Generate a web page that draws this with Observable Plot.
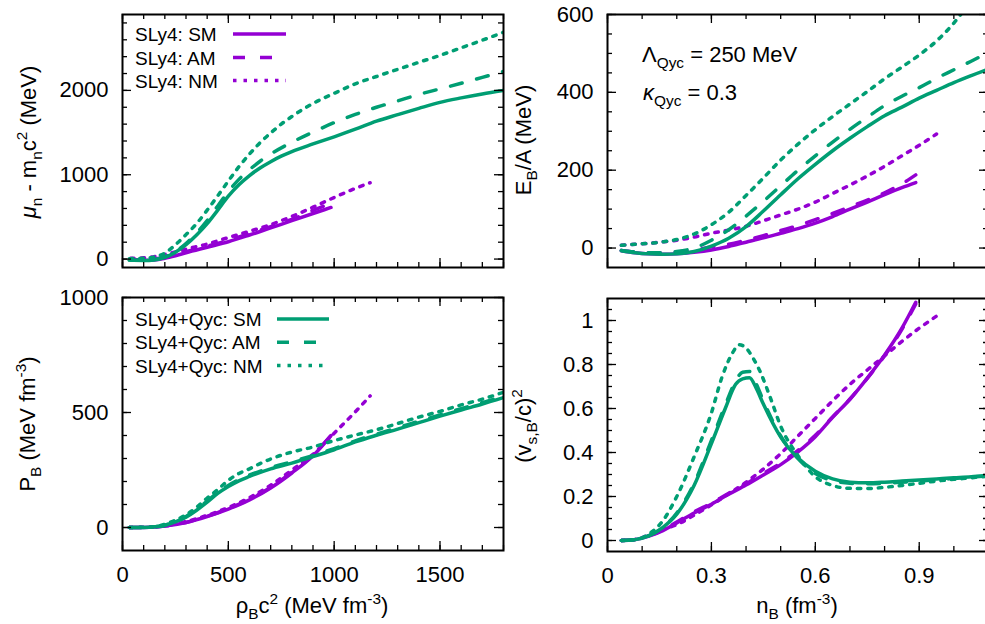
<!DOCTYPE html>
<html><head><meta charset="utf-8">
<script src="https://cdn.jsdelivr.net/npm/d3@7"></script>
<script src="https://cdn.jsdelivr.net/npm/@observablehq/plot@0.6"></script>
<style>
html,body{margin:0;padding:0;background:#fff;overflow:hidden;}
#fig{position:relative;width:985px;height:624px;overflow:hidden;background:#fff;}
#fig svg{position:absolute;}
</style></head><body><div id="fig"></div>
<script>
// ---------- DATA ----------
// Top-left: mu_n - m_n c^2 (MeV) vs rho_B c^2 (MeV fm^-3)
const tlSly4SM = [[38,-8],[100,-14],[150,-10],[200,10],[250,40],[300,75],[400,140],[500,205],[600,285],[700,370],[800,455],[900,540],[985,612]];
const tlSly4AM = [[38,-5],[100,-8],[150,0],[200,25],[250,55],[300,88],[400,152],[500,222],[600,302],[700,385],[800,470],[900,578],[985,660]];
const tlSly4NM = [[38,10],[100,15],[150,28],[200,55],[250,85],[300,118],[400,178],[500,255],[600,330],[700,408],[800,505],[900,615],[1000,730],[1100,838],[1170,905]];
const tlQycSM = [[32,-12],[100,-16],[150,-10],[200,20],[250,80],[300,170],[350,285],[400,420],[450,580],[500,745],[550,880],[600,990],[650,1080],[700,1155],[750,1220],[800,1275],[900,1365],[1000,1450],[1100,1540],[1200,1635],[1300,1712],[1400,1787],[1500,1858],[1600,1911],[1700,1958],[1800,2000]];
const tlQycAM = [[32,-10],[100,-14],[150,-6],[200,25],[250,90],[300,185],[350,310],[400,455],[450,630],[500,800],[550,945],[600,1060],[650,1160],[700,1245],[800,1385],[900,1505],[1000,1618],[1100,1715],[1200,1800],[1300,1875],[1400,1952],[1500,2018],[1600,2085],[1700,2155],[1800,2225]];
const tlQycNM = [[32,5],[100,10],[150,25],[200,70],[250,170],[300,290],[350,420],[400,580],[450,750],[500,925],[550,1095],[600,1245],[650,1380],[700,1495],[750,1600],[800,1690],[850,1772],[900,1845],[1000,1965],[1100,2078],[1200,2165],[1300,2250],[1400,2333],[1500,2415],[1600,2505],[1700,2595],[1800,2690]];

// Top-right: E_B/A (MeV) vs n_B (fm^-3)
const trSly4SM = [[0.04,-7],[0.08,-12],[0.12,-15],[0.16,-16],[0.2,-15],[0.25,-11],[0.3,-5],[0.35,4],[0.4,15],[0.45,26],[0.5,38],[0.55,50],[0.6,64],[0.65,81],[0.7,100],[0.75,118],[0.8,137],[0.85,155],[0.89,168]];
const trSly4AM = [[0.04,-6],[0.08,-10],[0.12,-12],[0.16,-12],[0.2,-10],[0.25,-5],[0.3,3],[0.35,10],[0.4,20],[0.45,32],[0.5,45],[0.55,58],[0.6,73],[0.65,89],[0.7,106],[0.75,123],[0.8,142],[0.85,165],[0.89,188]];
const trSly4NM = [[0.04,7],[0.08,10],[0.12,12],[0.16,16],[0.2,20],[0.25,28],[0.3,38],[0.35,46],[0.4,56],[0.45,70],[0.5,85],[0.55,100],[0.6,118],[0.65,140],[0.7,162],[0.75,185],[0.8,210],[0.85,237],[0.9,264],[0.95,293]];
const trQycSM = [[0.04,-7],[0.08,-12],[0.12,-15],[0.16,-16],[0.2,-15],[0.25,-9],[0.3,5],[0.35,25],[0.4,55],[0.45,95],[0.5,137],[0.55,178],[0.6,215],[0.65,250],[0.7,282],[0.75,312],[0.8,340],[0.85,362],[0.9,385],[0.95,405],[1.0,425],[1.05,443],[1.1,460]];
const trQycAM = [[0.04,-6],[0.08,-10],[0.12,-12],[0.16,-12],[0.2,-9],[0.25,0],[0.3,20],[0.35,47],[0.4,82],[0.45,120],[0.5,160],[0.55,200],[0.6,237],[0.65,272],[0.7,305],[0.75,336],[0.8,366],[0.85,390],[0.9,412],[0.95,436],[1.0,458],[1.05,480],[1.1,503]];
const trQycNM = [[0.04,7],[0.08,10],[0.12,12],[0.16,16],[0.2,22],[0.25,36],[0.3,60],[0.35,92],[0.4,135],[0.45,180],[0.5,226],[0.55,267],[0.6,304],[0.65,338],[0.7,370],[0.75,402],[0.8,435],[0.85,465],[0.9,496],[0.95,532],[1.0,578],[1.02,600]];

// Bottom-left: P_B (MeV fm^-3) vs rho_B c^2 (MeV fm^-3)
const blSly4SM = [[32,0],[100,0.5],[150,2],[200,6],[300,22],[400,48],[500,80],[600,120],[700,172],[800,237],[900,312],[985,400]];
const blSly4AM = [[32,0],[100,0.5],[150,2],[200,6],[300,22],[400,49],[500,82],[600,123],[700,175],[800,240],[900,316],[985,400]];
const blSly4NM = [[32,0],[100,1],[200,8],[300,26],[400,53],[500,87],[600,130],[700,184],[800,250],[900,318],[1000,410],[1100,503],[1170,572]];
const blQycSM = [[32,0],[100,0.5],[150,3],[200,9],[250,25],[300,45],[350,75],[400,110],[450,148],[500,178],[550,203],[600,222],[700,255],[800,280],[900,308],[1000,338],[1100,372],[1200,401],[1300,428],[1400,456],[1500,484],[1600,511],[1700,537],[1800,565]];
const blQycAM = [[32,0],[100,0.5],[150,3],[200,10],[250,27],[300,48],[350,79],[400,115],[450,153],[500,183],[550,208],[600,228],[700,260],[800,286],[900,313],[1000,343],[1100,377],[1200,406],[1300,434],[1400,462],[1500,490],[1600,517],[1700,543],[1800,571]];
const blQycNM = [[32,0],[100,1],[150,4],[200,14],[250,32],[300,55],[350,88],[400,128],[450,165],[500,205],[550,235],[600,255],[650,278],[700,298],[800,328],[900,350],[1000,378],[1100,402],[1200,425],[1300,452],[1400,480],[1500,505],[1600,533],[1700,558],[1800,588]];

// Bottom-right: (v_s,B/c)^2 vs n_B (fm^-3)
const brSly4SM = [[0.04,0],[0.08,0.004],[0.12,0.02],[0.16,0.045],[0.2,0.08],[0.25,0.125],[0.3,0.165],[0.35,0.21],[0.4,0.252],[0.45,0.298],[0.5,0.345],[0.55,0.403],[0.6,0.472],[0.65,0.56],[0.7,0.642],[0.75,0.738],[0.8,0.843],[0.85,0.965],[0.89,1.083]];
const brSly4AM = [[0.04,0],[0.08,0.004],[0.12,0.022],[0.16,0.048],[0.2,0.084],[0.25,0.13],[0.3,0.17],[0.35,0.215],[0.4,0.258],[0.45,0.305],[0.5,0.352],[0.55,0.41],[0.6,0.478],[0.65,0.562],[0.7,0.643],[0.75,0.737],[0.8,0.84],[0.85,0.96],[0.89,1.075]];
const brSly4NM = [[0.04,0],[0.08,0.005],[0.12,0.025],[0.16,0.05],[0.2,0.072],[0.25,0.115],[0.3,0.162],[0.35,0.212],[0.4,0.265],[0.45,0.325],[0.5,0.395],[0.55,0.475],[0.6,0.555],[0.65,0.635],[0.7,0.71],[0.75,0.775],[0.8,0.84],[0.85,0.905],[0.9,0.965],[0.95,1.02]];
const brQycSM = [[0.04,0],[0.08,0.004],[0.12,0.022],[0.16,0.06],[0.2,0.12],[0.25,0.25],[0.3,0.44],[0.34,0.6],[0.37,0.71],[0.39,0.735],[0.41,0.74],[0.43,0.69],[0.45,0.62],[0.5,0.47],[0.55,0.375],[0.6,0.315],[0.65,0.28],[0.7,0.265],[0.75,0.262],[0.8,0.265],[0.85,0.27],[0.9,0.275],[0.95,0.28],[1.0,0.285],[1.05,0.29],[1.1,0.297]];
const brQycAM = [[0.04,0],[0.08,0.004],[0.12,0.022],[0.16,0.06],[0.2,0.125],[0.25,0.26],[0.3,0.455],[0.34,0.615],[0.37,0.725],[0.39,0.765],[0.41,0.768],[0.43,0.71],[0.45,0.635],[0.5,0.475],[0.55,0.372],[0.6,0.305],[0.65,0.272],[0.7,0.26],[0.75,0.258],[0.8,0.26],[0.85,0.265],[0.9,0.27],[0.95,0.276],[1.0,0.282],[1.05,0.288],[1.1,0.294]];
const brQycNM = [[0.04,0],[0.08,0.004],[0.12,0.03],[0.16,0.09],[0.2,0.2],[0.25,0.38],[0.3,0.58],[0.33,0.74],[0.36,0.85],[0.38,0.89],[0.4,0.875],[0.42,0.83],[0.44,0.77],[0.47,0.65],[0.5,0.52],[0.55,0.385],[0.6,0.29],[0.65,0.25],[0.7,0.237],[0.75,0.236],[0.8,0.242],[0.85,0.25],[0.9,0.26],[0.95,0.27],[1.0,0.278],[1.05,0.285],[1.1,0.293]];

// Tick values and labels
const rhoTicks = [0, 500, 1000, 1500];
const rhoTickLabels = ["0", "500", "1000", "1500"];
const nTicks = [0, 0.3, 0.6, 0.9];
const nTickLabels = ["0", "0.3", "0.6", "0.9"];
const muTicks = [0, 1000, 2000];
const muTickLabels = ["0", "1000", "2000"];
const eTicks = [0, 200, 400, 600];
const eTickLabels = ["0", "200", "400", "600"];
const pTicks = [0, 500, 1000];
const pTickLabels = ["0", "500", "1000"];
const vTicks = [0, 0.2, 0.4, 0.6, 0.8, 1];
const vTickLabels = ["0", "0.2", "0.4", "0.6", "0.8", "1"];

const legendSly4 = ["SLy4: SM", "SLy4: AM", "SLy4: NM"];
const legendQyc = ["SLy4+Qyc: SM", "SLy4+Qyc: AM", "SLy4+Qyc: NM"];

// ---------- STYLE ----------
const PURPLE = "#9400d3", GREEN = "#009e73";
const FONT = '"Liberation Sans", Arial, Helvetica, sans-serif';
const DASHES = [null, "12,15", "3.5,7"];
const LW = 3.5;

function curve(data, color, dash) {
  const o = {x: d => d[0], y: d => d[1], stroke: color, strokeWidth: LW, curve: "monotone-x", clip: true};
  if (dash) o.strokeDasharray = dash;
  return Plot.line(data, o);
}

function panel(cfg) {
  const {width, height, mt, mb, ml, mr} = cfg;
  const W = width - ml - mr, H = height - mt - mb;
  const MAJ = 9, MIN = 5, TW = 1.3;
  const marks = [];
  cfg.series.forEach(s => marks.push(curve(s[0], s[1], s[2])));
  marks.push(Plot.tickX(cfg.xMinor, {x: d => d, insetTop: H - MIN, strokeWidth: TW, stroke: "#000"}));
  marks.push(Plot.tickX(cfg.xMinor, {x: d => d, insetBottom: H - MIN, strokeWidth: TW, stroke: "#000"}));
  marks.push(Plot.tickX(cfg.xMajor, {x: d => d, insetTop: H - MAJ, strokeWidth: TW, stroke: "#000"}));
  marks.push(Plot.tickX(cfg.xMajor, {x: d => d, insetBottom: H - MAJ, strokeWidth: TW, stroke: "#000"}));
  marks.push(Plot.tickY(cfg.yMinor, {y: d => d, insetRight: W - MIN, strokeWidth: TW, stroke: "#000"}));
  marks.push(Plot.tickY(cfg.yMinor, {y: d => d, insetLeft: W - MIN, strokeWidth: TW, stroke: "#000"}));
  marks.push(Plot.tickY(cfg.yMajor, {y: d => d, insetRight: W - MAJ, strokeWidth: TW, stroke: "#000"}));
  marks.push(Plot.tickY(cfg.yMajor, {y: d => d, insetLeft: W - MAJ, strokeWidth: TW, stroke: "#000"}));
  marks.push(Plot.frame({stroke: "#000", strokeWidth: 2}));
  const xMap = new Map(cfg.xMajor.map((v, i) => [v, cfg.xLabels[i]]));
  const yMap = new Map(cfg.yMajor.map((v, i) => [v, cfg.yLabels[i]]));
  const svg = Plot.plot({
    width, height, marginTop: mt, marginBottom: mb, marginLeft: ml, marginRight: mr,
    style: {fontFamily: FONT, fontSize: "22px", color: "#000", background: "transparent", overflow: "visible"},
    x: cfg.showX
      ? {domain: cfg.xDomain, ticks: cfg.xMajor, tickFormat: d => xMap.get(d), tickSize: 0, tickPadding: 16, label: null}
      : {domain: cfg.xDomain, axis: null},
    y: {domain: cfg.yDomain, ticks: cfg.yMajor, tickFormat: d => yMap.get(d), tickSize: 0, tickPadding: 14, label: null},
    marks
  });
  svg.style.position = "absolute";
  svg.style.left = cfg.left + "px";
  svg.style.top = cfg.top + "px";
  document.getElementById("fig").appendChild(svg);
}

const rhoMinor = d3.range(0, 1801, 100);
const nMinor = d3.range(0, 12).map(i => i / 10);

panel({left: 0, top: 0, width: 505, height: 290, mt: 14, mb: 23, ml: 122, mr: 2,
  xDomain: [0, 1800], yDomain: [-100, 2900], xMajor: rhoTicks, xLabels: rhoTickLabels, xMinor: rhoMinor,
  yMajor: muTicks, yLabels: muTickLabels, yMinor: d3.range(0, 2801, 200), showX: false,
  series: [[tlSly4SM, PURPLE, DASHES[0]], [tlSly4AM, PURPLE, DASHES[1]], [tlSly4NM, PURPLE, DASHES[2]],
           [tlQycSM, GREEN, DASHES[0]], [tlQycAM, GREEN, DASHES[1]], [tlQycNM, GREEN, DASHES[2]]]});

panel({left: 490, top: 0, width: 500, height: 290, mt: 14, mb: 23, ml: 117, mr: 2,
  xDomain: [0, 1.1], yDomain: [-50, 600], xMajor: nTicks, xLabels: nTickLabels, xMinor: nMinor,
  yMajor: eTicks, yLabels: eTickLabels, yMinor: d3.range(0, 601, 50), showX: false,
  series: [[trSly4SM, PURPLE, DASHES[0]], [trSly4AM, PURPLE, DASHES[1]], [trSly4NM, PURPLE, DASHES[2]],
           [trQycSM, GREEN, DASHES[0]], [trQycAM, GREEN, DASHES[1]], [trQycNM, GREEN, DASHES[2]]]});

panel({left: 0, top: 280, width: 505, height: 344, mt: 17, mb: 74, ml: 122, mr: 2,
  xDomain: [0, 1800], yDomain: [-100, 1000], xMajor: rhoTicks, xLabels: rhoTickLabels, xMinor: rhoMinor,
  yMajor: pTicks, yLabels: pTickLabels, yMinor: d3.range(0, 1001, 100), showX: true,
  series: [[blSly4SM, PURPLE, DASHES[0]], [blSly4AM, PURPLE, DASHES[1]], [blSly4NM, PURPLE, DASHES[2]],
           [blQycSM, GREEN, DASHES[0]], [blQycAM, GREEN, DASHES[1]], [blQycNM, GREEN, DASHES[2]]]});

panel({left: 490, top: 280, width: 500, height: 344, mt: 18, mb: 73, ml: 117, mr: 2,
  xDomain: [0, 1.1], yDomain: [-0.05, 1.1], xMajor: nTicks, xLabels: nTickLabels, xMinor: nMinor,
  yMajor: vTicks, yLabels: vTickLabels, yMinor: d3.range(0, 22).map(i => i / 20), showX: true,
  series: [[brSly4SM, PURPLE, DASHES[0]], [brSly4AM, PURPLE, DASHES[1]], [brSly4NM, PURPLE, DASHES[2]],
           [brQycSM, GREEN, DASHES[0]], [brQycAM, GREEN, DASHES[1]], [brQycNM, GREEN, DASHES[2]]]});

// ---------- OVERLAY TEXT & LEGENDS ----------
const ov = d3.create("svg").attr("width", 985).attr("height", 624)
  .style("left", "0px").style("top", "0px").style("position", "absolute")
  .attr("font-family", FONT).attr("fill", "#000");

function rich(x, y, parts, {size = 22, anchor = "middle", rotate = 0} = {}) {
  const t = ov.append("text").attr("transform", `translate(${x},${y}) rotate(${rotate})`)
    .attr("text-anchor", anchor).attr("font-size", size);
  let cur = 0;
  for (const p of parts) {
    const off = p.sub ? size * 0.27 : p.sup ? -size * 0.42 : 0;
    const ts = t.append("tspan").attr("dy", off - cur).text(p.t);
    if (p.sub || p.sup) ts.attr("font-size", size * 0.7);
    if (p.i) ts.attr("font-style", "italic");
    cur = off;
  }
}

rich(36, 142, [{t: "μ", i: 1}, {t: "n", sub: 1}, {t: " - m"}, {t: "n", sub: 1}, {t: "c"}, {t: "2", sup: 1}, {t: " (MeV)"}], {rotate: -90});
rich(531, 140, [{t: "E"}, {t: "B", sub: 1}, {t: "/A (MeV)"}], {rotate: -90});
rich(35, 424, [{t: "P"}, {t: "B", sub: 1}, {t: " (MeV fm"}, {t: "-3", sup: 1}, {t: ")"}], {rotate: -90});
rich(531, 426, [{t: "(v"}, {t: "s,B", sub: 1}, {t: "/c)"}, {t: "2", sup: 1}], {rotate: -90});
rich(312, 613, [{t: "ρ"}, {t: "B", sub: 1}, {t: "c"}, {t: "2", sup: 1}, {t: " (MeV fm"}, {t: "-3", sup: 1}, {t: ")"}]);
rich(797, 613, [{t: "n"}, {t: "B", sub: 1}, {t: " (fm"}, {t: "-3", sup: 1}, {t: ")"}]);
rich(642, 62, [{t: "Λ"}, {t: "Qyc", sub: 1}, {t: " = 250 MeV"}], {anchor: "start"});
rich(643, 100, [{t: "κ", i: 1}, {t: "Qyc", sub: 1}, {t: " = 0.3"}], {anchor: "start"});

function legend(labels, color, textX, lineX1, lineX2, rows) {
  labels.forEach((lab, i) => {
    ov.append("text").attr("x", textX).attr("y", rows[i] + 7).attr("font-size", 19).text(lab);
    const ln = ov.append("line").attr("x1", lineX1).attr("x2", lineX2).attr("y1", rows[i]).attr("y2", rows[i])
      .attr("stroke", color).attr("stroke-width", LW);
    if (DASHES[i]) ln.attr("stroke-dasharray", DASHES[i]);
  });
}
legend(legendSly4, PURPLE, 135, 233, 286, [34, 57.5, 80.5]);
legend(legendQyc, GREEN, 135, 277, 329, [319, 342.3, 365.5]);

document.getElementById("fig").appendChild(ov.node());
</script></body></html>
